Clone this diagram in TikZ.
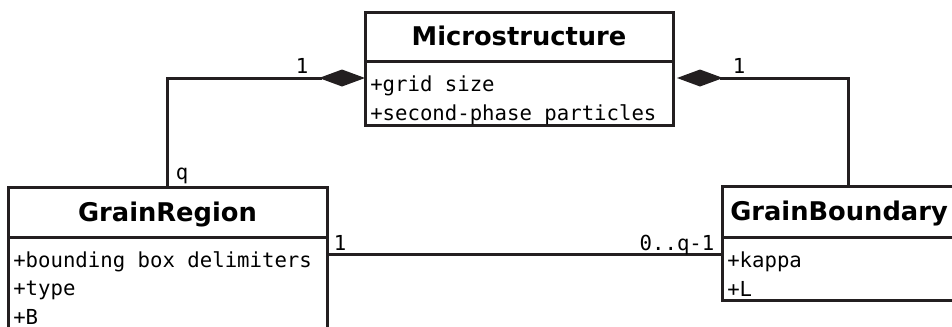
\documentclass[tikz,border=0pt]{standalone}
\usepackage{fontspec}
\setmainfont{DejaVu Sans}
\newfontfamily\umlmono{DejaVu Sans Mono}
\usetikzlibrary{positioning,arrows.meta}
\definecolor{umlline}{RGB}{35,31,32}

\tikzset{
  classhead/.style={draw=umlline, line width=2.25pt, outer sep=0pt, inner sep=0pt,
    font=\bfseries\fontsize{19.3}{22}\selectfont, text height=14.1pt, text depth=0pt},
  classbody/.style={draw=umlline, line width=2.25pt, outer sep=0pt, inner sep=0pt},
  attrs/.style={anchor=base west, align=left, inner sep=0pt,
    font=\umlmono\fontsize{15.5}{21.4}\selectfont},
  mult/.style={anchor=base, inner sep=0pt, font=\umlmono\fontsize{15.5}{18}\selectfont},
  assoc/.style={draw=umlline, line width=2.25pt},
  aggr/.style={assoc, -{Diamond[length=34.5pt, width=12.75pt, line width=0pt]}}
}

\begin{document}
\begin{tikzpicture}[x=0.75pt, y=-0.75pt]
  \useasboundingbox (0,0) rectangle (952,326);
  \clip (0,0) rectangle (952,326);
  % place class boxes
  \node [classhead, minimum width=231pt, minimum height=36.75pt] (Microstructure) at (519,36.5) {Microstructure};
  \node [classbody, below=0pt of Microstructure, minimum width=231pt, minimum height=48pt] (MicrostructureBody) {};
  \node [classhead, minimum width=239.25pt, minimum height=37.5pt] (GrainRegion) at (167.5,212) {GrainRegion};
  \node [classbody, below=0pt of GrainRegion, minimum width=239.25pt, minimum height=77.25pt] (GrainRegionBody) {};
  \node [classhead, minimum width=175.5pt, minimum height=38.25pt] (GrainBoundary) at (839,211.5) {GrainBoundary};
  \node [classbody, below=0pt of GrainBoundary, minimum width=175.5pt, minimum height=47.25pt] (GrainBoundaryBody) {};
  % attributes (anchored on the last line)
  \node [attrs] (MicrostructureAttr) at ([shift={(5,59)}]MicrostructureBody.north west)
    {+grid size\\+second-phase particles};
  \node [attrs] (GrainRegionAttr) at ([shift={(5,87.5)}]GrainRegionBody.north west)
    {+bounding box delimiters\\+type\\+B};
  \node [attrs] (GrainBoundaryAttr) at ([shift={(5,59)}]GrainBoundaryBody.north west)
    {+kappa\\+L};
  % draw edges
  \coordinate (msLeft) at ([shift={(0,17)}]MicrostructureBody.north west);
  \coordinate (msRight) at ([shift={(4,17)}]MicrostructureBody.north east);
  \coordinate (gbTop) at ([shift={(9,0)}]GrainBoundary.north);
  \coordinate (grRight) at ([shift={(0,17)}]GrainRegionBody.north east);
  \draw [aggr] (GrainRegion.north) |- (msLeft);
  \draw [aggr] (gbTop) |- (msRight);
  \draw [assoc] (grRight) -- (grRight -| GrainBoundaryBody.west);
  % multiplicities
  \node [mult] (msOneL) at (302,73) {1};
  \node [mult] (grQ) at (182,179) {q};
  \node [mult] (msOneR) at (739,73) {1};
  \node [mult] (grOne) at (340,250) {1};
  \node [mult] (gbMult) at (677,250) {0..q-1};
\end{tikzpicture}
\end{document}
